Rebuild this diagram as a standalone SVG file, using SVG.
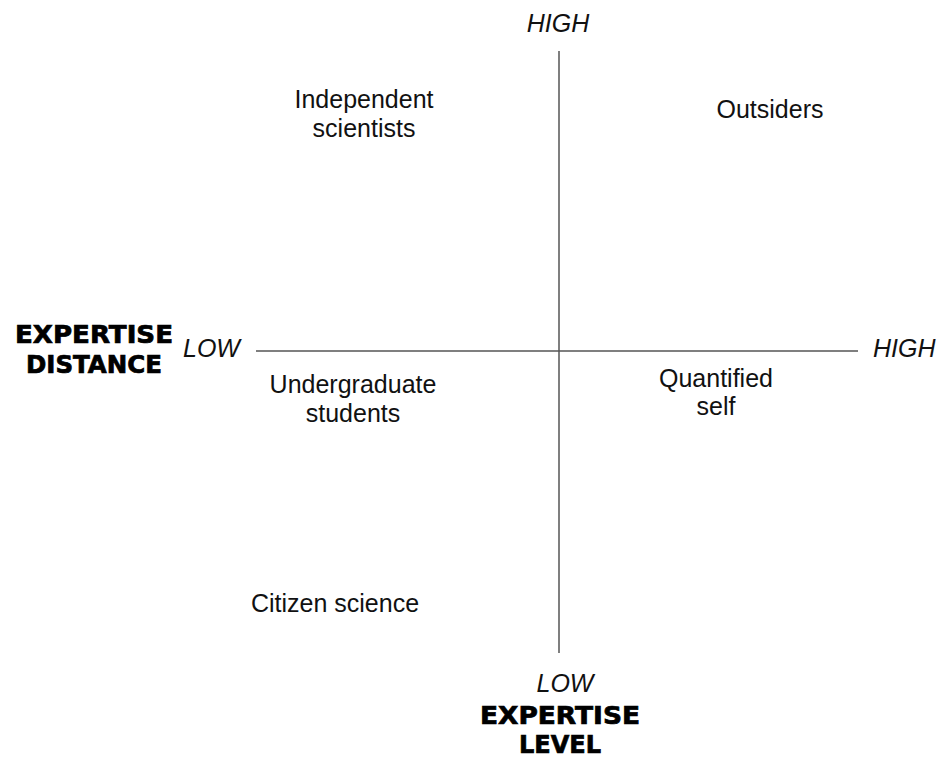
<svg xmlns="http://www.w3.org/2000/svg" width="938" height="759" viewBox="0 0 938 759">
<style>
.lbl{font-family:"Liberation Sans",Arial,sans-serif;font-size:25px;fill:#111;text-anchor:middle}
.ax{font-family:"Liberation Sans",Arial,sans-serif;font-size:25px;font-style:italic;fill:#111}
.ttl{font-family:"DejaVu Sans","Liberation Sans",sans-serif;font-size:24px;font-weight:bold;fill:#000;stroke:#000;stroke-width:0.7;text-anchor:middle}
.axis{stroke:#555;stroke-width:1.5;fill:none}
</style>
<rect width="938" height="759" fill="#fff"/>
<g id="connectors">
<line class="axis" x1="559" y1="51" x2="559" y2="653"/>
<line class="axis" x1="256" y1="351" x2="858" y2="351"/>
</g>
<g id="axis-labels">
<text class="ax" x="558" y="32" text-anchor="middle">HIGH</text>
<text class="ax" x="565" y="692" text-anchor="middle">LOW</text>
<text class="ax" x="183" y="357">LOW</text>
<text class="ax" x="873" y="357">HIGH</text>
</g>
<g id="title-distance">
<text class="ttl" x="94" y="343" textLength="158" lengthAdjust="spacingAndGlyphs">EXPERTISE</text>
<text class="ttl" x="94" y="373" textLength="136" lengthAdjust="spacingAndGlyphs">DISTANCE</text>
</g>
<g id="title-level">
<text class="ttl" x="560" y="724" textLength="160" lengthAdjust="spacingAndGlyphs">EXPERTISE</text>
<text class="ttl" x="560" y="753" textLength="82" lengthAdjust="spacingAndGlyphs">LEVEL</text>
</g>
<g id="independent-scientists">
<text class="lbl" x="364" y="108">Independent</text>
<text class="lbl" x="364" y="137">scientists</text>
</g>
<g id="outsiders">
<text class="lbl" x="770" y="118">Outsiders</text>
</g>
<g id="undergraduate-students">
<text class="lbl" x="353" y="393">Undergraduate</text>
<text class="lbl" x="353" y="422">students</text>
</g>
<g id="quantified-self">
<text class="lbl" x="716" y="387">Quantified</text>
<text class="lbl" x="716" y="415">self</text>
</g>
<g id="citizen-science">
<text class="lbl" x="335" y="612">Citizen science</text>
</g>
</svg>
